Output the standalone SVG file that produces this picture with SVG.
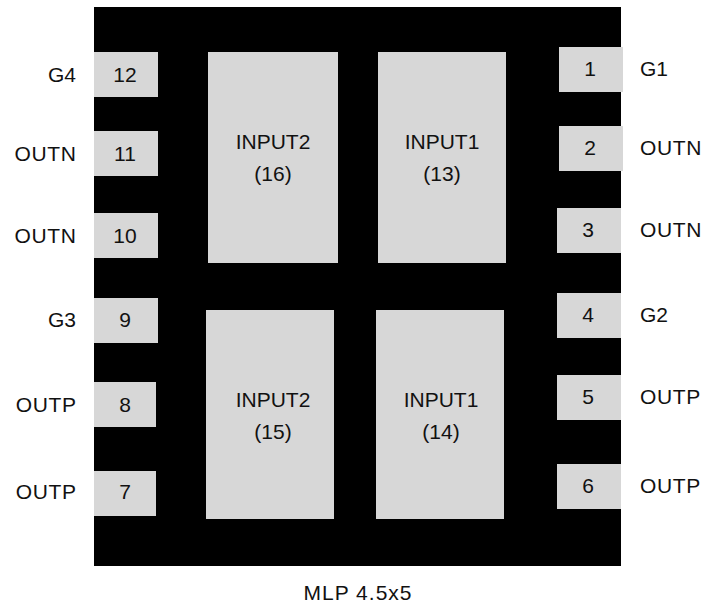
<svg xmlns="http://www.w3.org/2000/svg" width="705" height="605" viewBox="0 0 705 605">
<style>
text{font-family:"Liberation Sans",Arial,sans-serif;font-size:21px;fill:#111;text-anchor:middle}
.e{text-anchor:end}.s{text-anchor:start}
.o{letter-spacing:.6px}
.p{fill:#d7d7d7}
</style>
<rect width="705" height="605" fill="#fff"/>
<rect id="package" x="94" y="7" width="527" height="559" fill="#000"/>
<g id="pad16"><rect class="p" x="208" y="52" width="130" height="211"/><text x="273" y="149">INPUT2</text><text x="273" y="181">(16)</text></g>
<g id="pad13"><rect class="p" x="378" y="52" width="128" height="211"/><text x="442" y="149">INPUT1</text><text x="442" y="181">(13)</text></g>
<g id="pad15"><rect class="p" x="206" y="310" width="128" height="209"/><text x="273" y="407">INPUT2</text><text x="273" y="439">(15)</text></g>
<g id="pad14"><rect class="p" x="376" y="310" width="128" height="209"/><text x="441" y="407">INPUT1</text><text x="441" y="439">(14)</text></g>
<g id="pin12"><rect class="p" x="94" y="52" width="64" height="45"/><text x="125" y="82">12</text><text class="e" x="76" y="82">G4</text></g>
<g id="pin11"><rect class="p" x="94" y="131" width="64" height="45"/><text x="125" y="161">11</text><text class="e o" x="76.500" y="161">OUTN</text></g>
<g id="pin10"><rect class="p" x="94" y="213" width="64" height="45"/><text x="125" y="243">10</text><text class="e o" x="76.500" y="243">OUTN</text></g>
<g id="pin9"><rect class="p" x="94" y="298" width="64" height="45"/><text x="125" y="327">9</text><text class="e" x="76" y="327">G3</text></g>
<g id="pin8"><rect class="p" x="94" y="382" width="62" height="45"/><text x="125" y="412">8</text><text class="e o" x="76.500" y="412">OUTP</text></g>
<g id="pin7"><rect class="p" x="94" y="471" width="62" height="45"/><text x="125" y="499">7</text><text class="e o" x="76.500" y="499">OUTP</text></g>
<g id="pin1"><rect class="p" x="559" y="47" width="64" height="45"/><text x="590" y="76">1</text><text class="s" x="640" y="76">G1</text></g>
<g id="pin2"><rect class="p" x="559" y="126" width="64" height="45"/><text x="590" y="155">2</text><text class="s o" x="640" y="155">OUTN</text></g>
<g id="pin3"><rect class="p" x="557" y="208" width="64" height="45"/><text x="588" y="237">3</text><text class="s o" x="640" y="237">OUTN</text></g>
<g id="pin4"><rect class="p" x="557" y="293" width="64" height="45"/><text x="588" y="322">4</text><text class="s" x="640" y="322">G2</text></g>
<g id="pin5"><rect class="p" x="557" y="375" width="64" height="45"/><text x="588" y="404">5</text><text class="s o" x="640" y="404">OUTP</text></g>
<g id="pin6"><rect class="p" x="557" y="464" width="64" height="45"/><text x="588" y="493">6</text><text class="s o" x="640" y="493">OUTP</text></g>
<text x="358" y="600" style="letter-spacing:1px">MLP 4.5x5</text>
</svg>
